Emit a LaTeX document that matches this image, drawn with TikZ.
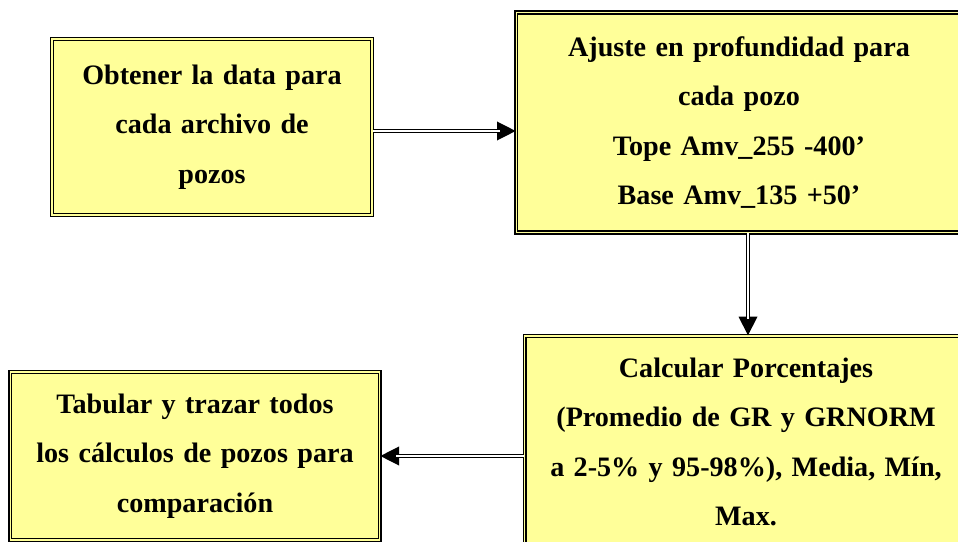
\documentclass[tikz,border=0pt]{standalone}
\usepackage{fontspec}
\setmainfont{Liberation Serif}
\usepackage{tikz}
\usetikzlibrary{arrows.meta}
\definecolor{boxyellow}{HTML}{FFFF99}

\begin{document}
\begin{tikzpicture}[
			x=0.75pt, y=-0.75pt,
			box/.style = {draw, fill=boxyellow, double=boxyellow, double distance=1.2pt, line width=1pt,
				align=center, inner sep=0pt, font=\bfseries\fontsize{21.1}{37}\selectfont},
			flow/.style = {double, double distance=1.3pt, line width=1pt, shorten >=12pt},
			head/.style = {-{Triangle[length=14pt, width=14pt]}, line width=1pt}
		]
		\useasboundingbox (0,0) rectangle (958,542);
		\clip (0,0) rectangle (958,542);
		\node[box, minimum width=240pt, minimum height=132pt, text width=225pt] (obtener) at (212,127)
			{Obtener la data para\\ cada archivo de\\ pozos};
		\node[box, minimum width=334pt, minimum height=165pt, text width=315pt] (ajuste) at (739,122.5)
			{Ajuste en profundidad para\\ cada pozo\\ Tope Amv\_255 -400’\\ Base Amv\_135 +50’};
		\node[box, minimum width=332pt, minimum height=159pt, text width=315pt] (calcular) at (746,442)
			{Calcular Porcentajes\\ (Promedio de GR y GRNORM\\ a 2-5\% y 95-98\%), Media, Mín,\\ Max.};
		\node[box, minimum width=277pt, minimum height=126pt, text width=270pt] (tabular) at (195,456)
			{Tabular y trazar todos\\ los cálculos de pozos para\\ comparación};
		% Draw the arrow heads first, the double shafts go over them.
		\draw[head] ([yshift=-3pt]obtener.east) to ([yshift=-3pt]obtener.east -| ajuste.west);
		\draw[head] ([xshift=6.75pt]ajuste.south) to ([xshift=6.75pt]ajuste.south |- calcular.north);
		\draw[head] (calcular.west |- tabular.east) to (tabular.east);
		% Draw the double shafts.
		\draw[flow] ([yshift=-3pt]obtener.east) to ([yshift=-3pt]obtener.east -| ajuste.west);
		\draw[flow] ([xshift=6.75pt]ajuste.south) to ([xshift=6.75pt]ajuste.south |- calcular.north);
		\draw[flow] (calcular.west |- tabular.east) to (tabular.east);
	\end{tikzpicture}
\end{document}
